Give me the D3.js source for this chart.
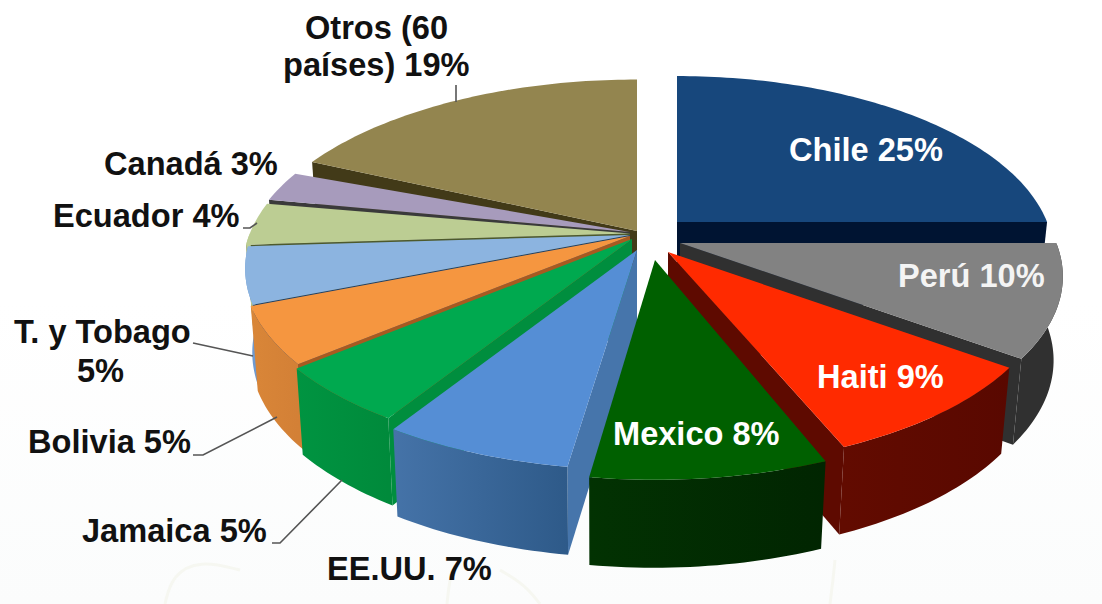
<!DOCTYPE html>
<html>
<head>
<meta charset="utf-8">
<script src="https://cdn.jsdelivr.net/npm/d3@7/dist/d3.min.js"></script>
<style>
html,body{margin:0;padding:0;background:#fff;overflow:hidden}
svg{display:block}
text{font-family:"Liberation Sans",Arial,sans-serif;font-weight:700;font-size:32.6px}
</style>
</head>
<body>
<svg id="chart" width="1102" height="604"></svg>
<script>
// Share of partners, clockwise from twelve o'clock
const categories = ["Chile","Perú","Haiti","Mexico","EE.UU.","Jamaica","Bolivia","T. y Tobago","Ecuador","Canadá","Otros (60 países)"];
const shares = [25,10,9,8,7,5,5,5,4,3,19];

// Slice colours: top face, radial wall, outer wall left and right
const topColors   = ["#17477c","#828282","#ff2a00","#006000","#558ed5","#00a94f","#f59640","#8cb4e0","#bccd93","#a79bbc","#93854f"];
const sideColors  = ["#001432","#303030","#5e0a00","#012e01","#4675ab","#008e3e","#a85a20","#1f3f68","#4d5a2c","#3a3a3a","#423a18"];
const wallLeft    = ["#001432","#303030","#620b00","#023202","#4573a8","#009441","#d98638","#6f9ad0","#bccd93","#a79bbc","#93854f"];
const wallRight   = ["#001432","#303030","#590800","#012501","#2e5a89","#008a3b","#d38036","#6f9ad0","#bccd93","#a79bbc","#93854f"];

// Where each slice's apex sits once pulled out of the pie, and its radius factor
const apexX = [677,680,668,655,637,632,630,630,630,630,637];
const apexY = [222,243,252,260,250,239,236,235,233.5,232,231];
const radiusFactor = [0.944,0.96,0.96,0.98,0.98,0.98,0.97,0.965,0.97,0.97,0.98];
// Small corrections, in radians, to each slice's edges where the 3D rim sits off its nominal angle
const startNudge = [0,0,0,0,0.023,0,0,0,0,0,0.05];
const endNudge   = [0,0,-0.022,0.015,0,0,0,0,-0.015,-0.02,0];

// Label text, split into lines, with the left edge and baseline of every line
const labelLines = [
  {t:"Chile 25%",x:789,y:161,c:"#ffffff"},
  {t:"Perú 10%",x:898,y:287,c:"#f4f4f4"},
  {t:"Haiti 9%",x:817,y:388,c:"#ffffff"},
  {t:"Mexico 8%",x:613,y:445,c:"#ffffff"},
  {t:"EE.UU. 7%",x:327,y:580,c:"#111"},
  {t:"Jamaica 5%",x:82,y:542,c:"#111"},
  {t:"Bolivia 5%",x:28,y:453,c:"#111"},
  {t:"T. y Tobago",x:14,y:343,c:"#111"},
  {t:"5%",x:77,y:382,c:"#111"},
  {t:"Ecuador 4%",x:53,y:227,c:"#111"},
  {t:"Canadá 3%",x:104,y:175,c:"#111"},
  {t:"Otros (60",x:305,y:39,c:"#111"},
  {t:"países) 19%",x:283,y:76,c:"#111"}
];
const leaders = [
  [[193,343],[253,356]],
  [[193,455],[203,455],[277,417]],
  [[272,543],[280,543],[342,480]],
  [[243,228],[250,228],[257,223]],
  [[456,85],[456,102]]
];

const RX = 392, RY = 183, PERSPECTIVE = 0.184, DEPTH = 83, VANISH_X = 600;

const svg = d3.select("#chart");
const defs = svg.append("defs");

const arcs = d3.pie().sort(null).value(d => d)
  .startAngle(0).endAngle(2 * Math.PI)(shares);

const line = d3.line().x(p => p[0]).y(p => p[1]);
const closed = pts => line(pts) + "Z";

// Pale sheet behind the chart, with a few faint grass blades near the foot
const sheet = defs.append("linearGradient").attr("id", "sheet")
  .attr("x1", 0).attr("x2", 0).attr("y1", 0).attr("y2", 1);
sheet.append("stop").attr("offset", 0.5).attr("stop-color", "#ffffff");
sheet.append("stop").attr("offset", 1).attr("stop-color", "#fbfcfc");
svg.append("rect").attr("width", 1102).attr("height", 604).attr("fill", "url(#sheet)");
const blades = [
  [[165,604],[172,575],[200,560],[240,570]],
  [[447,604],[449,585],[452,570]],
  [[500,570],[525,585],[540,604]],
  [[830,604],[833,580],[835,560]]
];
svg.append("g").selectAll("path").data(blades).join("path")
  .attr("d", d3.line().curve(d3.curveBasis))
  .attr("fill", "none").attr("stroke", "#f6f7f1").attr("stroke-width", 3);

// Point on a slice's top face at angle a (clockwise from north), r in 0..1
function onTop(i, a, r = 1) {
  const u = Math.sin(a) * r, v = -Math.cos(a) * r;
  const s = 1 / (1 - PERSPECTIVE * v);
  const f = radiusFactor[i];
  return {x: apexX[i] + RX * f * u * s, y: apexY[i] + RY * f * v * s, v};
}
// The same point dropped to the base of the extrusion
function onBase(p) {
  return [VANISH_X + (p.x - VANISH_X) * 0.98, p.y + DEPTH * (1 + 0.06 * p.v)];
}
const xy = p => [p.x, p.y];

function sampleArc(i, a0, a1) {
  const n = Math.max(2, Math.ceil((a1 - a0) / 0.02));
  return d3.range(n + 1).map(k => onTop(i, a0 + (a1 - a0) * k / n));
}

// Back slices first, so nearer ones overlap them
const paintOrder = [10,9,8,7,6,5,4,0,1,2,3];
const groups = svg.append("g").selectAll("g").data(paintOrder).join("g");

groups.each(function(i) {
  const g = d3.select(this), d = arcs[i];
  const a0 = d.startAngle + startNudge[i], a1 = d.endAngle + endNudge[i];

  // Radial wall facing the viewer
  const wallAngle = d.endAngle <= Math.PI + 1e-6 ? a1 : (d.startAngle >= Math.PI - 1e-6 ? a0 : null);
  if (wallAngle !== null) {
    const apex = onTop(i, 0, 0), rim = onTop(i, wallAngle);
    g.append("path")
      .attr("d", closed([xy(apex), xy(rim), onBase(rim), [apex.x, apex.y + DEPTH]]))
      .attr("fill", sideColors[i]);
  }

  // Outer curved wall, only for the part of the rim on the near side
  const w0 = Math.max(a0, Math.PI / 2), w1 = Math.min(a1, 3 * Math.PI / 2);
  if (w1 > w0) {
    const rim = sampleArc(i, w0, w1);
    const xs = rim.map(p => p.x);
    const gid = "wall" + i;
    const grad = defs.append("linearGradient").attr("id", gid)
      .attr("gradientUnits", "userSpaceOnUse")
      .attr("x1", d3.min(xs)).attr("x2", d3.max(xs)).attr("y1", 0).attr("y2", 0);
    grad.append("stop").attr("offset", 0).attr("stop-color", wallLeft[i]);
    grad.append("stop").attr("offset", 1).attr("stop-color", wallRight[i]);
    g.append("path")
      .attr("d", closed(rim.map(xy).concat(rim.slice().reverse().map(onBase))))
      .attr("fill", `url(#${gid})`);
  }

  // Top face
  const rim = sampleArc(i, a0, a1);
  g.append("path")
    .attr("d", closed([xy(onTop(i, 0, 0))].concat(rim.map(xy))))
    .attr("fill", topColors[i]);
});

// Leader lines
svg.append("g").selectAll("path").data(leaders).join("path")
  .attr("d", line).attr("fill", "none")
  .attr("stroke", "#555").attr("stroke-width", 1.6);

// Labels
svg.append("g").selectAll("text").data(labelLines).join("text")
  .attr("x", d => d.x).attr("y", d => d.y).attr("fill", d => d.c).text(d => d.t);
</script>
</body>
</html>
